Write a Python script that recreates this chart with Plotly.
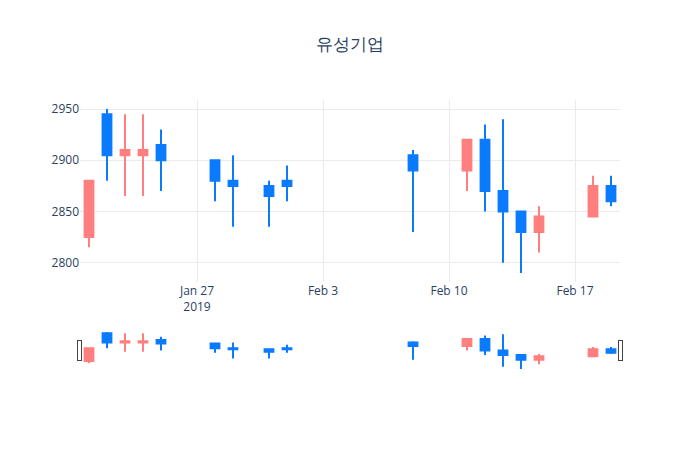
import plotly.graph_objects as go

dates = ["2019-01-21", "2019-01-22", "2019-01-23", "2019-01-24", "2019-01-25",
         "2019-01-28", "2019-01-29", "2019-01-31", "2019-02-01", "2019-02-08",
         "2019-02-11", "2019-02-12", "2019-02-13", "2019-02-14", "2019-02-15",
         "2019-02-18", "2019-02-19"]
open_ = [2825, 2945, 2905, 2905, 2915, 2900, 2880, 2875, 2880, 2905,
         2890, 2920, 2870, 2850, 2830, 2845, 2875]
high = [2880, 2950, 2945, 2945, 2930, 2900, 2905, 2880, 2895, 2910,
        2920, 2935, 2940, 2850, 2855, 2885, 2885]
low = [2815, 2880, 2865, 2865, 2870, 2860, 2835, 2835, 2860, 2830,
       2870, 2850, 2800, 2790, 2810, 2845, 2855]
close = [2880, 2905, 2910, 2910, 2900, 2880, 2875, 2865, 2875, 2890,
         2920, 2870, 2850, 2830, 2845, 2875, 2860]

UP = "#ff7f7f"
DOWN = "#0a7aff"

fig = go.Figure(go.Candlestick(
    x=dates, open=open_, high=high, low=low, close=close,
    increasing=dict(line=dict(color=UP), fillcolor=UP),
    decreasing=dict(line=dict(color=DOWN), fillcolor=DOWN),
))
fig.update_layout(
    template="plotly_white",
    title=dict(text="유성기업", x=0.5),
    width=700, height=450,
    showlegend=False,
)
fig.update_xaxes(gridcolor="#ebebeb")
fig.update_yaxes(gridcolor="#ebebeb")
fig.write_html("out.html")
